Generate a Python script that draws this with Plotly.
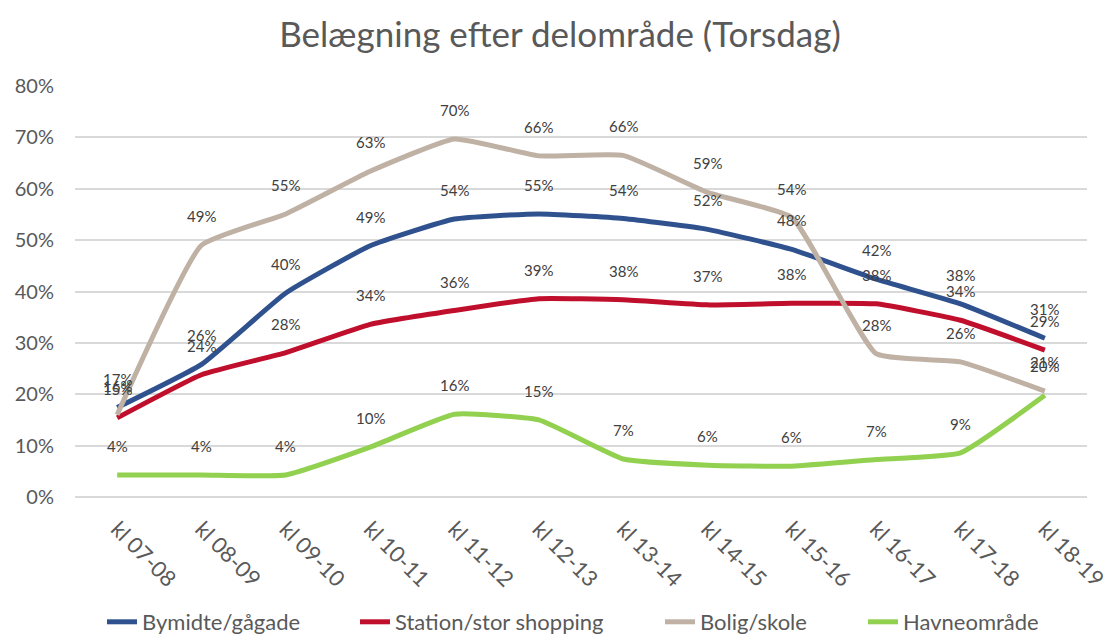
import plotly.graph_objects as go

categories = ["kl 07-08", "kl 08-09", "kl 09-10", "kl 10-11", "kl 11-12", "kl 12-13",
              "kl 13-14", "kl 14-15", "kl 15-16", "kl 16-17", "kl 17-18", "kl 18-19"]
bymidte = [17.4, 25.8, 39.7, 48.9, 54.1, 55.1, 54.2, 52.1, 48.2, 42.4, 37.6, 30.9]
station = [15.4, 23.8, 28.1, 33.6, 36.3, 38.6, 38.4, 37.4, 37.7, 37.6, 34.4, 28.6]
bolig = [16.0, 49.0, 55.1, 63.4, 69.7, 66.4, 66.5, 59.3, 54.4, 27.9, 26.3, 20.6]
havn = [4.3, 4.3, 4.3, 9.7, 16.1, 15.0, 7.4, 6.2, 6.0, 7.3, 8.6, 19.8]

series_names = ["Bymidte/gågade", "Station/stor shopping", "Bolig/skole", "Havneområde"]
series_values = [bymidte, station, bolig, havn]
colors = ["#2F528F", "#C00F2C", "#BFB1A4", "#92D050"]

FONT = "Lato, Open Sans, sans-serif"

# the page places the figure 8px from the top-left corner of the window
OFF = 8
W, H = 1104, 627
legend_ids = ["legend", "legend2", "legend3", "legend4"]
legend_left_px = [102, 355, 660, 863]  # window pixels of each legend entry

fig = go.Figure()
annotations = []
for name, vals, col, lid in zip(series_names, series_values, colors, legend_ids):
    fig.add_trace(go.Scatter(
        x=categories, y=vals, name=name, mode="lines", legend=lid,
        line=dict(color=col, width=5, shape="spline", smoothing=0.4),
    ))
    for c, v in zip(categories, vals):
        annotations.append(dict(
            x=c, y=v, xref="x", yref="y", text=f"{round(v):d}%",
            showarrow=False, yshift=29,
            font=dict(family=FONT, size=15, color="#404040"),
        ))

legends = {}
for lid, px in zip(legend_ids, legend_left_px):
    legends[lid] = dict(
        orientation="h", x=(px - OFF) / W, xanchor="left", xref="container",
        y=1 - (622 - OFF) / H, yanchor="middle", yref="container",
        bgcolor="rgba(0,0,0,0)",
        font=dict(family=FONT, size=22, color="#595959"),
    )

fig.update_layout(
    width=W, height=H,
    paper_bgcolor="white", plot_bgcolor="white",
    margin=dict(l=67, r=25, t=78, b=138),
    title=dict(text="Belægning efter delområde (Torsdag)", x=0.5, xanchor="center",
               xref="container", y=1 - 27 / H, yanchor="middle",
               font=dict(family=FONT, size=35, color="#595959")),
    xaxis=dict(type="category", range=[-0.5, 11.5], tickangle=45, showgrid=False,
               showline=False, ticks="", automargin=False, ticklabelstandoff=14,
               tickfont=dict(family=FONT, size=22, color="#595959")),
    yaxis=dict(range=[0, 80], dtick=10, ticksuffix="%", showgrid=True,
               gridcolor="#D9D9D9", gridwidth=1.5, zeroline=True,
               zerolinecolor="#D9D9D9", zerolinewidth=1.5, showline=False,
               ticks="", automargin=False, ticklabelstandoff=20,
               tickfont=dict(family=FONT, size=20, color="#595959")),
    annotations=annotations,
    showlegend=True,
    **legends,
)

fig.write_html("out.html")
